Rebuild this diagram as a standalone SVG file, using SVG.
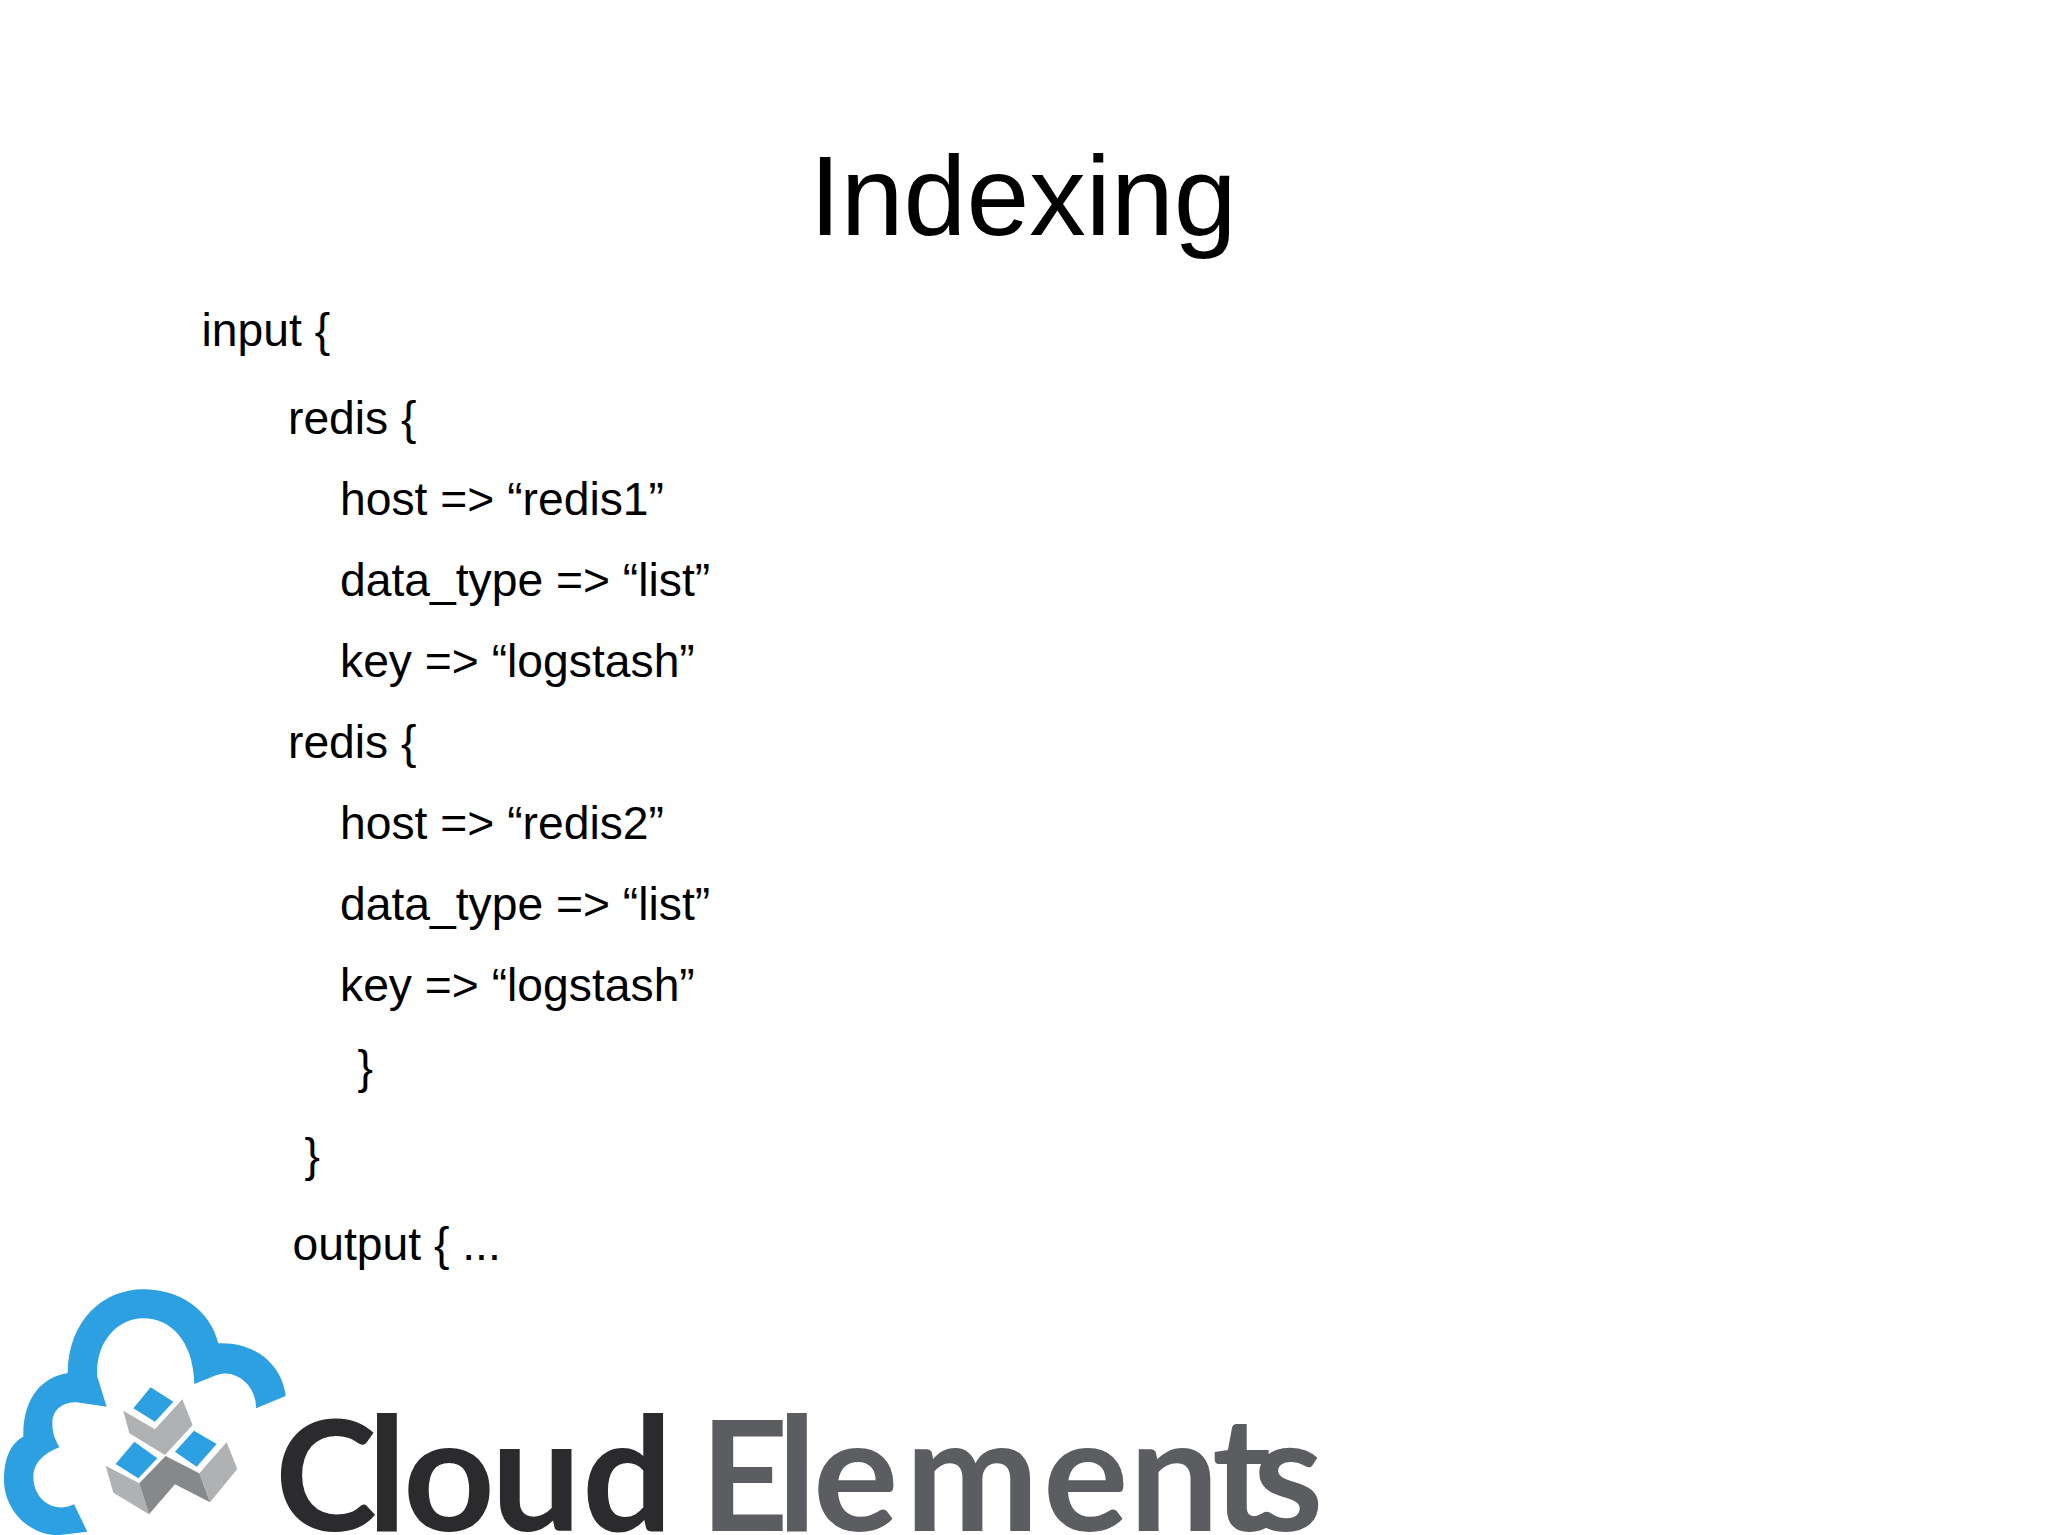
<svg xmlns="http://www.w3.org/2000/svg" width="2048" height="1535" viewBox="0 0 2048 1535">
<style>
.b{font:46.25px "Liberation Sans",Arial,sans-serif;fill:#000}
.t{font:113px "Liberation Sans",Arial,sans-serif;fill:#000;text-anchor:middle}
.l{font:700 154px Lato,"Liberation Sans",sans-serif}
.s{font-size:160px}
</style>
<rect width="2048" height="1535" fill="#fff"/>
<text class="t" x="1023" y="235">Indexing</text>
<text class="b" x="201.5" y="346">input {</text>
<text class="b" x="288" y="434">redis {</text>
<text class="b" x="340" y="515">host =&gt; “redis1”</text>
<text class="b" x="340" y="596">data_type =&gt; “list”</text>
<text class="b" x="340" y="677">key =&gt; “logstash”</text>
<text class="b" x="288" y="758">redis {</text>
<text class="b" x="340" y="839">host =&gt; “redis2”</text>
<text class="b" x="340" y="920">data_type =&gt; “list”</text>
<text class="b" x="340" y="1001">key =&gt; “logstash”</text>
<text class="b" x="357.5" y="1083">}</text>
<text class="b" x="304.5" y="1171">}</text>
<text class="b" x="292.5" y="1260">output { ...</text>
<g transform="translate(0,1270) scale(.3333)">
<path fill="#2ca0e0" d="M857,378C850,300 780,215 655,220C630,120 540,58 430,58C310,58 205,150 203,310C130,320 68,380 70,500C30,520 12,570 12,630C12,720 90,800 180,795L262,785L222,703C200,715 170,715 150,705C120,690 100,660 100,620C100,580 130,550 178,532C160,500 155,480 158,445C165,410 200,395 230,397L320,410L292,320C285,220 350,145 430,145C510,145 580,210 583,342L650,315C700,295 770,340 768,415Z"/>
<g fill="#2ca0e0">
<polygon points="452,352 520,395 465,455 400,415"/>
<polygon points="582,482 650,522 590,590 525,545"/>
<polygon points="403,515 472,565 415,625 347,582"/>
</g>
<g fill="#b0b1b3">
<polygon points="370,422 465,478 547,388 578,465 495,555 388,490"/>
<polygon points="680,517 712,597 630,697 598,610"/>
<polygon points="317,587 418,640 447,733 340,668"/>
</g>
<polygon fill="#87888a" points="418,640 497,558 598,610 630,697 525,643 447,733"/>
</g>
<text class="l" y="1531" fill="#2b2a2d" x="275">C<tspan class="s" x="367 403 491 582">loud</tspan></text>
<text class="l" y="1531" fill="#5c5d60" x="700">E<tspan class="s" x="777 813 905 1043 1129 1212 1253">lements</tspan></text>
</svg>
